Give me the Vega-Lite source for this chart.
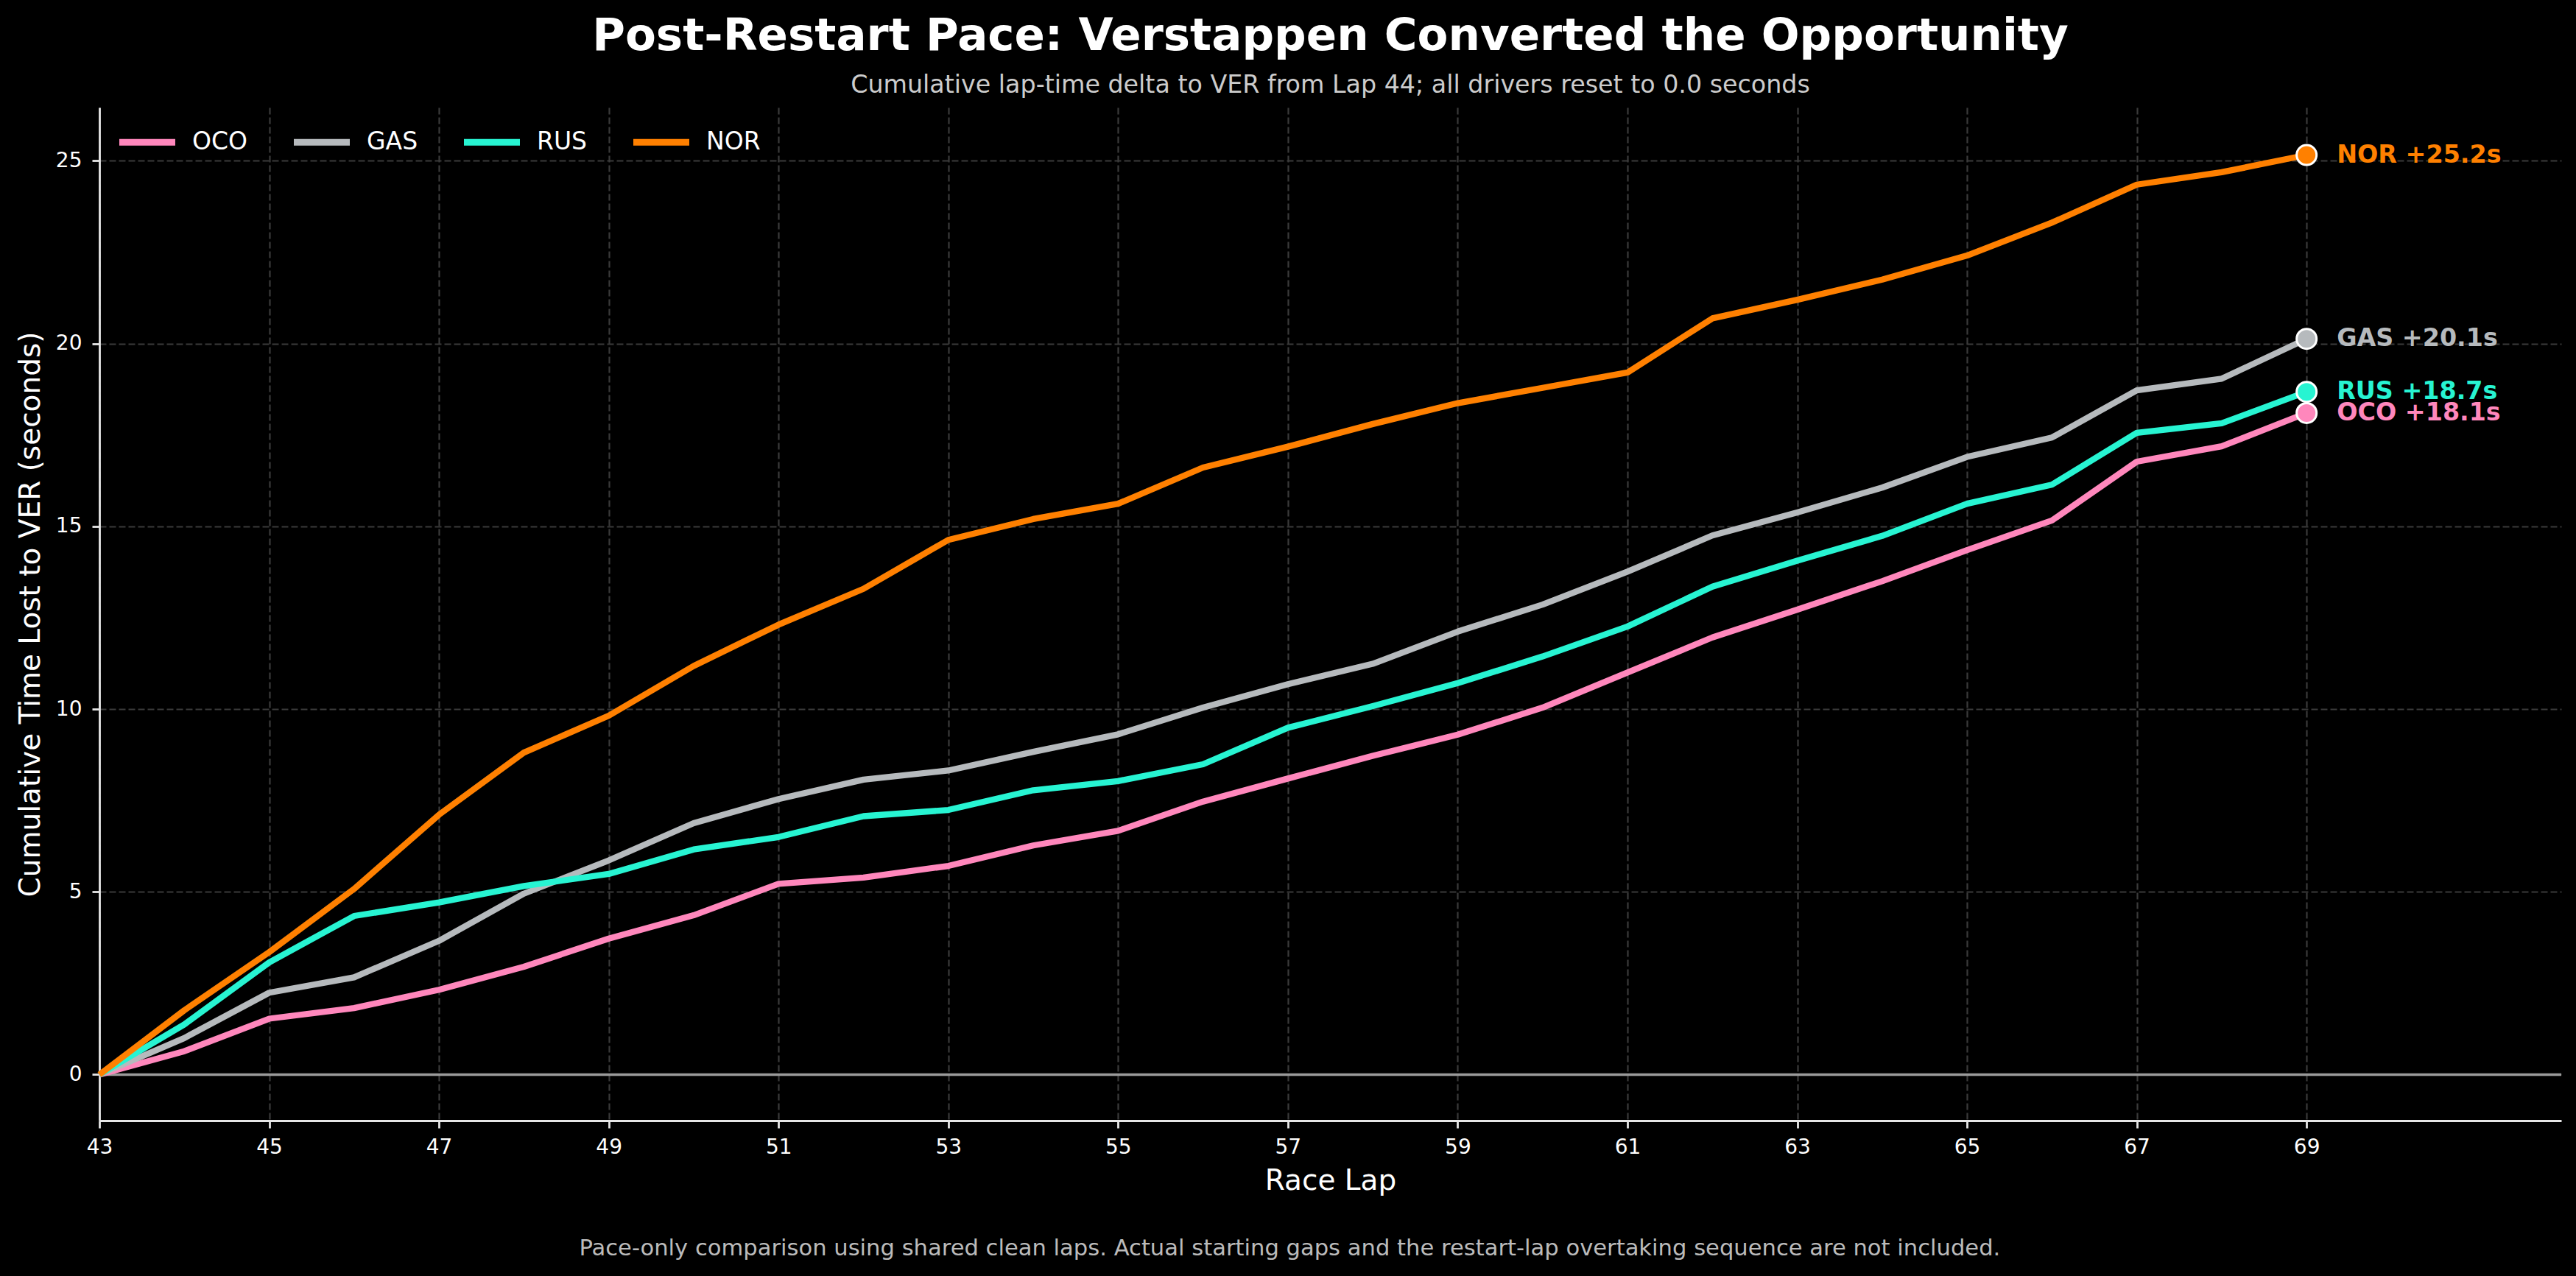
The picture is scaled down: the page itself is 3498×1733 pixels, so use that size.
{
  "$schema": "https://vega.github.io/schema/vega-lite/v6.json",
  "background": "#000000",
  "autosize": {"type": "pad"},
  "padding": {"left": 22, "top": 19, "right": 21, "bottom": 23},
  "title": {
    "text": "Pace-only comparison using shared clean laps. Actual starting gaps and the restart-lap overtaking sequence are not included.",
    "orient": "bottom",
    "anchor": "middle",
    "frame": "bounds",
    "offset": 58,
    "fontSize": 30.6,
    "fontWeight": "normal",
    "color": "#bbbbbb"
  },
  "datasets": {
    "laps": [
      {"driver": "OCO", "lap": 43, "delta": 0}, {"driver": "OCO", "lap": 44, "delta": 0.64}, {"driver": "OCO", "lap": 45, "delta": 1.53},
      {"driver": "OCO", "lap": 46, "delta": 1.82}, {"driver": "OCO", "lap": 47, "delta": 2.32}, {"driver": "OCO", "lap": 48, "delta": 2.95},
      {"driver": "OCO", "lap": 49, "delta": 3.72}, {"driver": "OCO", "lap": 50, "delta": 4.36}, {"driver": "OCO", "lap": 51, "delta": 5.22},
      {"driver": "OCO", "lap": 52, "delta": 5.39}, {"driver": "OCO", "lap": 53, "delta": 5.71}, {"driver": "OCO", "lap": 54, "delta": 6.27},
      {"driver": "OCO", "lap": 55, "delta": 6.67}, {"driver": "OCO", "lap": 56, "delta": 7.47}, {"driver": "OCO", "lap": 57, "delta": 8.1},
      {"driver": "OCO", "lap": 58, "delta": 8.72}, {"driver": "OCO", "lap": 59, "delta": 9.3}, {"driver": "OCO", "lap": 60, "delta": 10.04},
      {"driver": "OCO", "lap": 61, "delta": 11.0}, {"driver": "OCO", "lap": 62, "delta": 11.96}, {"driver": "OCO", "lap": 63, "delta": 12.72},
      {"driver": "OCO", "lap": 64, "delta": 13.5}, {"driver": "OCO", "lap": 65, "delta": 14.35}, {"driver": "OCO", "lap": 66, "delta": 15.16},
      {"driver": "OCO", "lap": 67, "delta": 16.77}, {"driver": "OCO", "lap": 68, "delta": 17.19}, {"driver": "OCO", "lap": 69, "delta": 18.1},
      {"driver": "GAS", "lap": 43, "delta": 0}, {"driver": "GAS", "lap": 44, "delta": 1.0}, {"driver": "GAS", "lap": 45, "delta": 2.24},
      {"driver": "GAS", "lap": 46, "delta": 2.66}, {"driver": "GAS", "lap": 47, "delta": 3.66}, {"driver": "GAS", "lap": 48, "delta": 4.95},
      {"driver": "GAS", "lap": 49, "delta": 5.86}, {"driver": "GAS", "lap": 50, "delta": 6.88}, {"driver": "GAS", "lap": 51, "delta": 7.54},
      {"driver": "GAS", "lap": 52, "delta": 8.07}, {"driver": "GAS", "lap": 53, "delta": 8.32}, {"driver": "GAS", "lap": 54, "delta": 8.83},
      {"driver": "GAS", "lap": 55, "delta": 9.31}, {"driver": "GAS", "lap": 56, "delta": 10.04}, {"driver": "GAS", "lap": 57, "delta": 10.68},
      {"driver": "GAS", "lap": 58, "delta": 11.24}, {"driver": "GAS", "lap": 59, "delta": 12.12}, {"driver": "GAS", "lap": 60, "delta": 12.86},
      {"driver": "GAS", "lap": 61, "delta": 13.76}, {"driver": "GAS", "lap": 62, "delta": 14.75}, {"driver": "GAS", "lap": 63, "delta": 15.38},
      {"driver": "GAS", "lap": 64, "delta": 16.06}, {"driver": "GAS", "lap": 65, "delta": 16.9}, {"driver": "GAS", "lap": 66, "delta": 17.43},
      {"driver": "GAS", "lap": 67, "delta": 18.72}, {"driver": "GAS", "lap": 68, "delta": 19.04}, {"driver": "GAS", "lap": 69, "delta": 20.13},
      {"driver": "RUS", "lap": 43, "delta": 0}, {"driver": "RUS", "lap": 44, "delta": 1.37}, {"driver": "RUS", "lap": 45, "delta": 3.07},
      {"driver": "RUS", "lap": 46, "delta": 4.34}, {"driver": "RUS", "lap": 47, "delta": 4.71}, {"driver": "RUS", "lap": 48, "delta": 5.16},
      {"driver": "RUS", "lap": 49, "delta": 5.49}, {"driver": "RUS", "lap": 50, "delta": 6.16}, {"driver": "RUS", "lap": 51, "delta": 6.5},
      {"driver": "RUS", "lap": 52, "delta": 7.07}, {"driver": "RUS", "lap": 53, "delta": 7.24}, {"driver": "RUS", "lap": 54, "delta": 7.78},
      {"driver": "RUS", "lap": 55, "delta": 8.03}, {"driver": "RUS", "lap": 56, "delta": 8.49}, {"driver": "RUS", "lap": 57, "delta": 9.49},
      {"driver": "RUS", "lap": 58, "delta": 10.08}, {"driver": "RUS", "lap": 59, "delta": 10.71}, {"driver": "RUS", "lap": 60, "delta": 11.44},
      {"driver": "RUS", "lap": 61, "delta": 12.26}, {"driver": "RUS", "lap": 62, "delta": 13.35}, {"driver": "RUS", "lap": 63, "delta": 14.06},
      {"driver": "RUS", "lap": 64, "delta": 14.74}, {"driver": "RUS", "lap": 65, "delta": 15.62}, {"driver": "RUS", "lap": 66, "delta": 16.14},
      {"driver": "RUS", "lap": 67, "delta": 17.56}, {"driver": "RUS", "lap": 68, "delta": 17.82}, {"driver": "RUS", "lap": 69, "delta": 18.68},
      {"driver": "NOR", "lap": 43, "delta": 0}, {"driver": "NOR", "lap": 44, "delta": 1.76}, {"driver": "NOR", "lap": 45, "delta": 3.35},
      {"driver": "NOR", "lap": 46, "delta": 5.08}, {"driver": "NOR", "lap": 47, "delta": 7.11}, {"driver": "NOR", "lap": 48, "delta": 8.81},
      {"driver": "NOR", "lap": 49, "delta": 9.82}, {"driver": "NOR", "lap": 50, "delta": 11.18}, {"driver": "NOR", "lap": 51, "delta": 12.31},
      {"driver": "NOR", "lap": 52, "delta": 13.29}, {"driver": "NOR", "lap": 53, "delta": 14.63}, {"driver": "NOR", "lap": 54, "delta": 15.2},
      {"driver": "NOR", "lap": 55, "delta": 15.62}, {"driver": "NOR", "lap": 56, "delta": 16.61}, {"driver": "NOR", "lap": 57, "delta": 17.18},
      {"driver": "NOR", "lap": 58, "delta": 17.8}, {"driver": "NOR", "lap": 59, "delta": 18.37}, {"driver": "NOR", "lap": 60, "delta": 18.79},
      {"driver": "NOR", "lap": 61, "delta": 19.21}, {"driver": "NOR", "lap": 62, "delta": 20.69}, {"driver": "NOR", "lap": 63, "delta": 21.2},
      {"driver": "NOR", "lap": 64, "delta": 21.75}, {"driver": "NOR", "lap": 65, "delta": 22.41}, {"driver": "NOR", "lap": 66, "delta": 23.31},
      {"driver": "NOR", "lap": 67, "delta": 24.35}, {"driver": "NOR", "lap": 68, "delta": 24.69}, {"driver": "NOR", "lap": 69, "delta": 25.16}
    ],
    "ends": [
      {"driver": "OCO", "lap": 69, "delta": 18.1, "label": "OCO +18.1s"},
      {"driver": "GAS", "lap": 69, "delta": 20.13, "label": "GAS +20.1s"},
      {"driver": "RUS", "lap": 69, "delta": 18.68, "label": "RUS +18.7s"},
      {"driver": "NOR", "lap": 69, "delta": 25.16, "label": "NOR +25.2s"}
    ],
    "zero": [{"level": 0}]
  },
  "vconcat": [
    {
      "title": {
        "text": "Post-Restart Pace: Verstappen Converted the Opportunity",
        "subtitle": "Cumulative lap-time delta to VER from Lap 44; all drivers reset to 0.0 seconds",
        "anchor": "middle",
        "frame": "group",
        "offset": 12.7,
        "fontSize": 61,
        "fontWeight": "bold",
        "color": "#ffffff",
        "subtitleFontSize": 33.3,
        "subtitleColor": "#cccccc",
        "subtitlePadding": 19
      },
      "width": 3343,
      "height": 1376,
      "layer": [
        {
          "data": {"name": "zero"},
          "mark": {"type": "rule", "color": "#9a9a9a", "strokeWidth": 3.5},
          "encoding": {
            "y": {"field": "level", "type": "quantitative"}
          }
        },
        {
          "data": {"name": "laps"},
          "mark": {"type": "line", "strokeWidth": 8.3, "strokeJoin": "round"},
          "encoding": {
            "x": {
              "field": "lap",
              "type": "quantitative",
              "title": "Race Lap",
              "scale": {"domain": [43, 72], "nice": false, "zero": false},
              "axis": {
                "values": [43, 45, 47, 49, 51, 53, 55, 57, 59, 61, 63, 65, 67, 69],
                "format": "d",
                "labelFlush": false,
                "labelOverlap": false,
                "labelPadding": 12,
                "titlePadding": 12.4
              }
            },
            "y": {
              "field": "delta",
              "type": "quantitative",
              "title": "Cumulative Time Lost to VER (seconds)",
              "scale": {"domain": [-1.26, 26.46], "nice": false, "zero": false},
              "axis": {
                "values": [0, 5, 10, 15, 20, 25],
                "format": "d",
                "labelPadding": 14,
                "titlePadding": 13.4
              }
            },
            "color": {
              "field": "driver",
              "type": "nominal",
              "scale": {
                "domain": ["OCO", "GAS", "RUS", "NOR"],
                "range": ["#ff87bc", "#b6babd", "#27f4d2", "#ff8000"]
              },
              "legend": {
                "title": null,
                "orient": "none",
                "legendX": 22.5,
                "legendY": 4.5,
                "direction": "horizontal",
                "symbolType": "stroke",
                "symbolSize": 5776,
                "symbolStrokeWidth": 9,
                "labelFontSize": 33,
                "labelColor": "#ffffff",
                "labelOffset": 18.5,
                "columnPadding": 44,
                "padding": 0
              }
            }
          }
        },
        {
          "data": {"name": "ends"},
          "mark": {"type": "point", "shape": "circle", "filled": true, "size": 730, "stroke": "#ffffff", "strokeWidth": 3, "opacity": 1},
          "encoding": {
            "x": {"field": "lap", "type": "quantitative"},
            "y": {"field": "delta", "type": "quantitative"},
            "color": {"field": "driver", "type": "nominal", "legend": null}
          }
        },
        {
          "data": {"name": "ends"},
          "mark": {"type": "text", "align": "left", "baseline": "middle", "dx": 41, "fontSize": 33.3, "fontWeight": "bold"},
          "encoding": {
            "x": {"field": "lap", "type": "quantitative"},
            "y": {"field": "delta", "type": "quantitative"},
            "text": {"field": "label"},
            "color": {"field": "driver", "type": "nominal", "legend": null}
          }
        }
      ]
    }
  ],
  "config": {
    "font": "DejaVu Sans",
    "view": {"stroke": null},
    "axis": {
      "domainColor": "#e6e6e6",
      "domainWidth": 2.8,
      "tickColor": "#e6e6e6",
      "tickWidth": 2.8,
      "tickSize": 10,
      "labelColor": "#ffffff",
      "labelFontSize": 28,
      "titleColor": "#ffffff",
      "titleFontSize": 39,
      "titleFontWeight": "normal",
      "grid": true,
      "gridColor": "#3a3a3a",
      "gridDash": [9, 4],
      "gridWidth": 2.2
    }
  }
}
